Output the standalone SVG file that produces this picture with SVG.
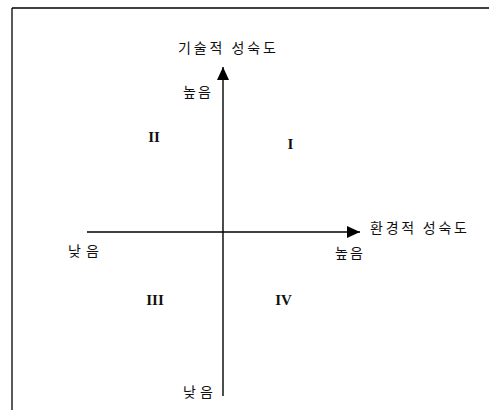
<svg xmlns="http://www.w3.org/2000/svg" width="489" height="410" viewBox="0 0 489 410">
<style>
.ko{font-family:"Noto Sans CJK KR","Liberation Sans",sans-serif;font-size:14px;fill:#111}
.rn{font-family:"Liberation Serif",serif;font-size:15px;font-weight:bold;fill:#111}
.ax{stroke:#000;stroke-width:1.4;fill:none}
</style>
<defs>
<marker id="ah" markerUnits="userSpaceOnUse" markerWidth="13" markerHeight="12" refX="13" refY="6" orient="auto">
<path d="M0,0 L13,6 L0,12 Z" fill="#000"/>
</marker>
</defs>
<rect width="489" height="410" fill="#fff"/>
<g id="frame">
<line x1="12" y1="8" x2="489" y2="8" stroke="#000" stroke-width="1.6"/>
<line x1="12" y1="8" x2="12" y2="410" stroke="#000" stroke-width="1.3"/>
</g>
<g id="connectors">
<line class="ax" x1="223" y1="396" x2="223" y2="67" marker-end="url(#ah)"/>
<line class="ax" x1="87" y1="232" x2="360" y2="232" marker-end="url(#ah)"/>
</g>
<g id="y-axis-label"><text class="ko" x="178" y="53" textLength="98" lengthAdjust="spacing">기술적 성숙도</text></g>
<g id="x-axis-label"><text class="ko" x="370" y="233" textLength="97" lengthAdjust="spacing">환경적 성숙도</text></g>
<g id="y-high"><text class="ko" x="183" y="97" textLength="28" lengthAdjust="spacing">높음</text></g>
<g id="y-low"><text class="ko" x="183" y="397" textLength="30" lengthAdjust="spacing">낮음</text></g>
<g id="x-high"><text class="ko" x="335" y="258" textLength="28" lengthAdjust="spacing">높음</text></g>
<g id="x-low"><text class="ko" x="68" y="256" textLength="31" lengthAdjust="spacing">낮음</text></g>
<g id="q1"><text class="rn" x="290.5" y="149" text-anchor="middle">I</text></g>
<g id="q2"><text class="rn" x="154" y="142" text-anchor="middle">II</text></g>
<g id="q3"><text class="rn" x="155" y="305" text-anchor="middle">III</text></g>
<g id="q4"><text class="rn" x="283.5" y="305" text-anchor="middle">IV</text></g>
</svg>
